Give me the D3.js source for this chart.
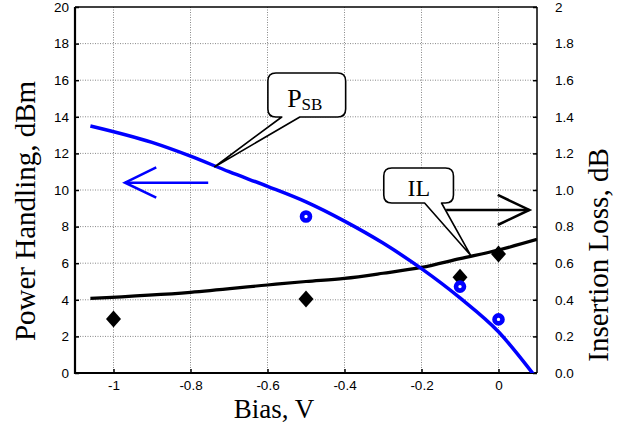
<!DOCTYPE html>
<html>
<head>
<meta charset="utf-8">
<script src="https://cdn.jsdelivr.net/npm/d3@7"></script>
<style>
  body { margin: 0; background: #fff; }
  svg { display: block; }
</style>
</head>
<body>
<div id="chart"></div>
<script>
// power handling curve (left axis, dBm)
var psbBias = [-1.06, -0.9, -0.8, -0.7, -0.6, -0.5, -0.4, -0.3, -0.2, -0.1, 0, 0.09];
var psbVals = [13.5, 12.6, 11.85, 11.0, 10.2, 9.35, 8.3, 7.1, 5.7, 4.1, 2.25, -0.05];
// measured power handling (blue circles)
var psbMeasBias = [-0.5, -0.1, 0];
var psbMeasVals = [8.55, 4.72, 2.93];
// insertion loss curve (right axis, dB)
var ilBias = [-1.06, -0.8, -0.6, -0.5, -0.4, -0.3, -0.2, -0.1, 0, 0.1];
var ilVals = [0.408, 0.441, 0.481, 0.5, 0.517, 0.545, 0.577, 0.625, 0.672, 0.73];
// measured insertion loss (black diamonds)
var ilMeasBias = [-1, -0.5, -0.1, 0];
var ilMeasVals = [0.295, 0.404, 0.523, 0.65];

var xTicks = [-1, -0.8, -0.6, -0.4, -0.2, 0];
var yLeftTicks = [0, 2, 4, 6, 8, 10, 12, 14, 16, 18, 20];
var yRightTicks = [0, 0.2, 0.4, 0.6, 0.8, 1.0, 1.2, 1.4, 1.6, 1.8, 2];

var W = 627, H = 426;
var margin = {top: 7, right: 90, bottom: 53, left: 75};

var svg = d3.select("#chart").append("svg")
  .attr("width", W).attr("height", H);

var x = d3.scaleLinear().domain([-1.1, 0.1]).range([margin.left, W - margin.right]);
var yL = d3.scaleLinear().domain([0, 20]).range([H - margin.bottom, margin.top]);
var yR = d3.scaleLinear().domain([0, 2]).range([H - margin.bottom, margin.top]);

var x0 = x.range()[0], x1 = x.range()[1], yb = yL.range()[0], yt = yL.range()[1];

svg.append("defs").append("clipPath").attr("id", "plot")
  .append("rect").attr("x", x0).attr("y", yt).attr("width", x1 - x0).attr("height", yb - yt);

// grid
var grid = svg.append("g").attr("stroke", "#888").attr("stroke-width", 1)
  .attr("stroke-dasharray", "1,1.5");
grid.selectAll(".gx").data(xTicks).enter().append("line")
  .attr("x1", d => x(d)).attr("x2", d => x(d)).attr("y1", yt).attr("y2", yb);
grid.selectAll(".gy").data(yLeftTicks.slice(1, -1)).enter().append("line")
  .attr("y1", d => yL(d)).attr("y2", d => yL(d)).attr("x1", x0).attr("x2", x1);

// axes
var font = "'Liberation Sans', Arial, sans-serif";
var gx = svg.append("g").attr("transform", "translate(0," + yb + ")")
  .call(d3.axisBottom(x).tickValues(xTicks).tickSizeInner(-4).tickSizeOuter(0).tickPadding(7)
    .tickFormat(d => d === 0 ? "0" : String(+d.toFixed(1))));
var gl = svg.append("g").attr("transform", "translate(" + x0 + ",0)")
  .call(d3.axisLeft(yL).tickValues(yLeftTicks).tickSizeInner(-4).tickSizeOuter(0).tickPadding(6)
    .tickFormat(d3.format("d")));
var gr = svg.append("g").attr("transform", "translate(" + x1 + ",0)")
  .call(d3.axisRight(yR).tickValues(yRightTicks).tickSizeInner(-4).tickSizeOuter(0).tickPadding(18)
    .tickFormat(d => d === 2 ? "2" : d.toFixed(1)));
[gx, gl, gr].forEach(function(g) {
  g.selectAll("text").attr("font-family", font).attr("font-size", 13.5).attr("fill", "#000");
  g.selectAll(".tick line").attr("stroke", "#000").attr("stroke-width", 1.5);
  g.select(".domain").remove();
});

// frame
svg.append("line").attr("x1", x0).attr("x2", x1).attr("y1", yt).attr("y2", yt)
  .attr("stroke", "#000").attr("stroke-width", 1.3);
svg.append("line").attr("x1", x1).attr("x2", x1).attr("y1", yt).attr("y2", yb)
  .attr("stroke", "#000").attr("stroke-width", 1.5);
svg.append("line").attr("x1", x0).attr("x2", x0).attr("y1", yt).attr("y2", yb + 1)
  .attr("stroke", "#000").attr("stroke-width", 2.2);
svg.append("line").attr("x1", x0 - 1).attr("x2", x1).attr("y1", yb).attr("y2", yb)
  .attr("stroke", "#000").attr("stroke-width", 2.2);

// curves
var plot = svg.append("g").attr("clip-path", "url(#plot)");
plot.append("path")
  .datum(d3.zip(ilBias, ilVals))
  .attr("fill", "none").attr("stroke", "#000").attr("stroke-width", 3.2)
  .attr("d", d3.line().curve(d3.curveMonotoneX).x(d => x(d[0])).y(d => yR(d[1])));
plot.append("path")
  .datum(d3.zip(psbBias, psbVals))
  .attr("fill", "none").attr("stroke", "#0000ff").attr("stroke-width", 3.5)
  .attr("d", d3.line().curve(d3.curveMonotoneX).x(d => x(d[0])).y(d => yL(d[1])));

// measured points
svg.selectAll(".dia").data(d3.zip(ilMeasBias, ilMeasVals)).enter().append("path")
  .attr("fill", "#000")
  .attr("d", function(d) {
    var cx = x(d[0]), cy = yR(d[1]);
    return "M" + cx + "," + (cy - 8.5) + "L" + (cx + 7.5) + "," + cy + "L" + cx + "," + (cy + 8.5) +
      "L" + (cx - 7.5) + "," + cy + "Z";
  });
svg.selectAll(".circ").data(d3.zip(psbMeasBias, psbMeasVals)).enter().append("circle")
  .attr("cx", d => x(d[0])).attr("cy", d => yL(d[1])).attr("r", 4)
  .attr("fill", "#fff").attr("stroke", "#0000ff").attr("stroke-width", 4.6);

// callouts (positions in data units)
function callout(bx0, bx1, by0, by1, px0, px1, tip, r) {
  var L = x(bx0), R = x(bx1), T = yL(by0), B = yL(by1);
  var a = x(px0), b = x(px1), tx = x(tip[0]), ty = yL(tip[1]);
  return "M" + (L + r) + "," + T + "L" + (R - r) + "," + T +
    "Q" + R + "," + T + " " + R + "," + (T + r) + "L" + R + "," + (B - r) +
    "Q" + R + "," + B + " " + (R - r) + "," + B + "L" + b + "," + B +
    "L" + tx + "," + ty + "L" + a + "," + B + "L" + (L + r) + "," + B +
    "Q" + L + "," + B + " " + L + "," + (B - r) + "L" + L + "," + (T + r) +
    "Q" + L + "," + T + " " + (L + r) + "," + T + "Z";
}
svg.append("path")
  .attr("d", callout(-0.599, -0.397, 16.39, 13.99, -0.563, -0.516, [-0.737, 11.27], 8))
  .attr("fill", "#fff").attr("stroke", "#000").attr("stroke-width", 1.6).attr("stroke-linejoin", "round");
svg.append("path")
  .attr("d", callout(-0.298, -0.117, 11.2, 9.29, -0.192, -0.148, [-0.073, 6.45], 8))
  .attr("fill", "#fff").attr("stroke", "#000").attr("stroke-width", 1.6).attr("stroke-linejoin", "round");

var serif = "'Liberation Serif', 'Times New Roman', serif";
var psbText = svg.append("text")
  .attr("x", x(-0.498) - 2).attr("y", yL(14.55)).attr("text-anchor", "middle")
  .attr("font-family", serif).attr("font-size", 26);
psbText.append("tspan").text("P");
psbText.append("tspan").attr("font-size", 17).attr("dy", 3.5).text("SB");
svg.append("text")
  .attr("x", x(-0.207)).attr("y", yL(9.67)).attr("text-anchor", "middle")
  .attr("font-family", serif).attr("font-size", 24).text("IL");

// direction arrows
function arrow(from, to, h1, h2, yS, color) {
  var g = svg.append("g").attr("stroke", color).attr("stroke-width", 2.6).attr("fill", "none");
  g.append("line").attr("x1", x(from[0])).attr("y1", yS(from[1])).attr("x2", x(to[0])).attr("y2", yS(to[1]));
  g.append("polyline").attr("points",
    [h1, to, h2].map(p => x(p[0]) + "," + yS(p[1])).join(" "));
}
arrow([-0.754, 10.4], [-0.970, 10.4], [-0.889, 11.24], [-0.889, 9.58], yL, "#0000ff");
arrow([-0.136, 8.91], [0.080, 8.91], [-0.002, 9.73], [-0.002, 8.09], yL, "#000");

// axis titles
svg.append("text")
  .attr("transform", "translate(35," + 211 + ") rotate(-90)")
  .attr("text-anchor", "middle").attr("font-family", serif).attr("font-size", 29)
  .text("Power Handling, dBm");
svg.append("text")
  .attr("transform", "translate(608," + 255 + ") rotate(-90)")
  .attr("text-anchor", "middle").attr("font-family", serif).attr("font-size", 29)
  .text("Insertion Loss, dB");
svg.append("text")
  .attr("x", 274).attr("y", 418)
  .attr("text-anchor", "middle").attr("font-family", serif).attr("font-size", 27)
  .text("Bias, V");
</script>
</body>
</html>
